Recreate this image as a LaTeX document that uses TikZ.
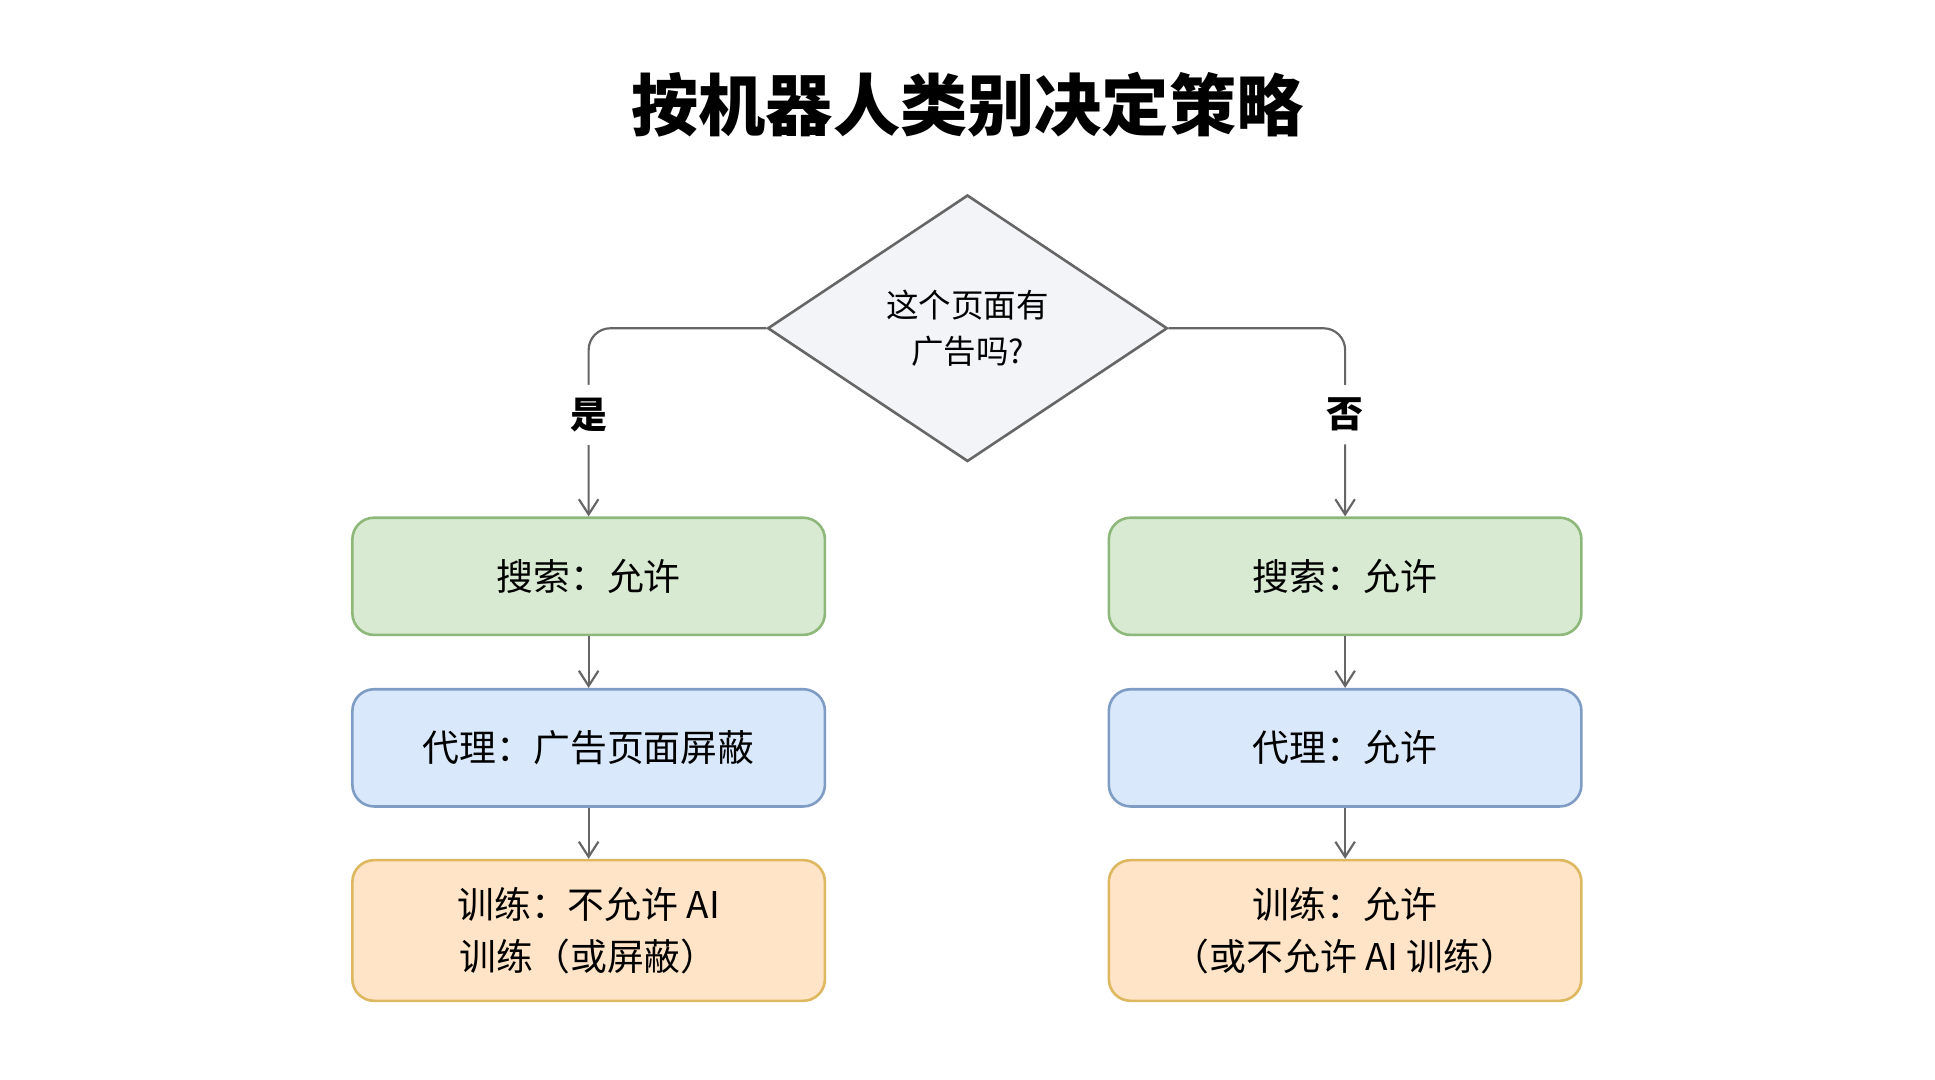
\documentclass[tikz,border=0pt]{standalone}
\usepackage{fontspec}
\setmainfont{Noto Sans CJK SC}
\usetikzlibrary{arrows.meta,shapes.geometric}
\definecolor{gfill}{HTML}{D9EAD3}\definecolor{gline}{HTML}{8DB87A}
\definecolor{bfill}{HTML}{DAE8FC}\definecolor{bline}{HTML}{7F9CC4}
\definecolor{ofill}{HTML}{FFE4C8}\definecolor{oline}{HTML}{DDB85E}
\definecolor{dfill}{HTML}{F2F4F7}
\tikzset{
  box/.style={rounded corners=10pt, line width=1.2pt, minimum width=7.66cm, minimum height=1.9cm, align=center, font=\fontsize{17}{24}\selectfont},
  link/.style={draw=gray!80!black, line width=1pt, -{Straight Barb[length=7pt,width=9pt]}},
}
\begin{document}
\begin{tikzpicture}[x=0.02cm,y=-0.02cm]
  \useasboundingbox[fill=white] (0,0) rectangle (1568,875);
  \node[font=\fontsize{31}{36}\selectfont\bfseries] (title) at (784,85) {按机器人类别决定策略};
  \node[draw=gray!80!black, fill=dfill, line width=1.2pt, diamond, aspect=1.5, minimum width=6.48cm, minimum height=4.32cm, inner sep=0pt, align=center, font=\fontsize{15}{21}\selectfont] (ask) at (784,266) {这个页面有\\广告吗?};
  % left column
  \node[box, draw=gline, fill=gfill] (ls) at (477,467) {搜索：允许};
  \node[box, draw=bline, fill=bfill] (lp) at (477,606) {代理：广告页面屏蔽};
  \node[box, draw=oline, fill=ofill, minimum height=2.28cm] (lt) at (477,754) {训练：不允许 AI\\训练（或屏蔽）};
  % right column
  \node[box, draw=gline, fill=gfill] (rs) at (1090,467) {搜索：允许};
  \node[box, draw=bline, fill=bfill] (rp) at (1090,606) {代理：允许};
  \node[box, draw=oline, fill=ofill, minimum height=2.28cm] (rt) at (1090,754) {训练：允许\\（或不允许 AI 训练）};
  % branches
  \draw[link, rounded corners=10pt] (ask.west) -| node[pos=0.73, fill=white, font=\fontsize{17}{20}\selectfont\bfseries, inner sep=6pt] {是} (ls.north);
  \draw[link, rounded corners=10pt] (ask.east) -| node[pos=0.73, fill=white, font=\fontsize{17}{20}\selectfont\bfseries, inner sep=6pt] {否} (rs.north);
  \draw[link] (ls) -- (lp);
  \draw[link] (lp) -- (lt);
  \draw[link] (rs) -- (rp);
  \draw[link] (rp) -- (rt);
\end{tikzpicture}
\end{document}
